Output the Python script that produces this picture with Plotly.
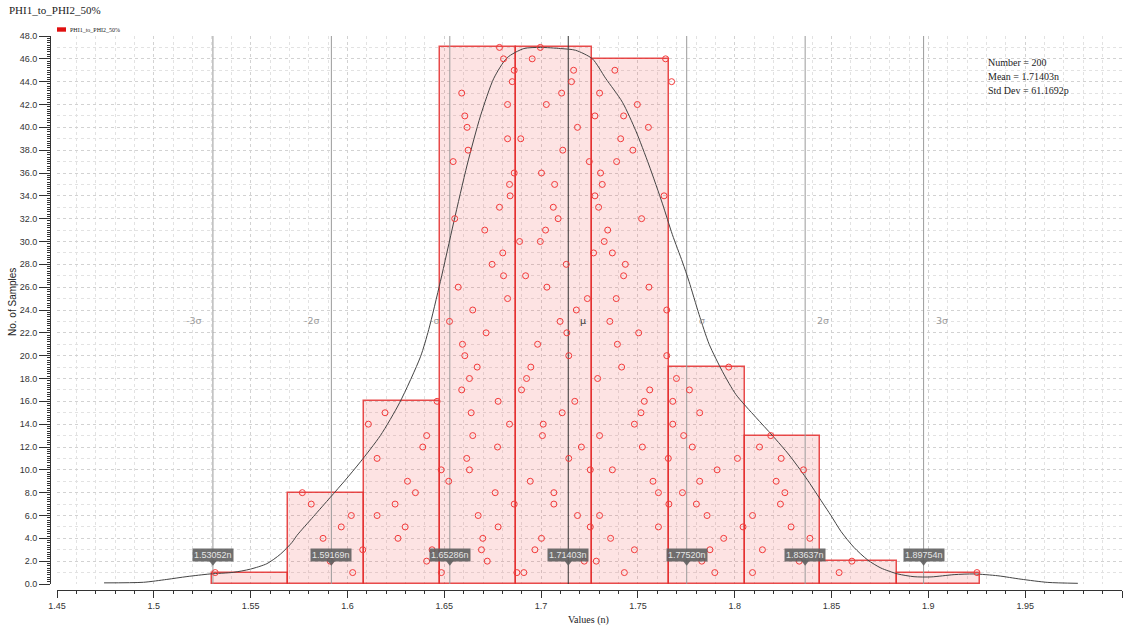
import plotly.graph_objects as go

# ---------------- data ----------------
title_text = "PHI1_to_PHI2_50%"
n_samples = 200
mean_n = 1.71403
std_n = 0.0611692
std_label = "61.1692p"

bin_edges = [1.5300, 1.5691, 1.6084, 1.6477, 1.6872, 1.7265, 1.7661, 1.8052, 1.8442, 1.8837, 1.9269]
bin_counts = [1, 8, 16, 47, 47, 46, 19, 13, 2, 1]

# sample values per bin, listed in the order of their plotted count level (1, 2, 3, ...)
bin1_samples = [1.5317]
bin2_samples = [1.6027, 1.5911, 1.6079, 1.5874, 1.5968, 1.6020, 1.5813, 1.5767]
bin3_samples = [1.6485, 1.6409, 1.6437, 1.6261, 1.6298, 1.6153, 1.6246, 1.6351, 1.6310, 1.6484,
                1.6153, 1.6389, 1.6409, 1.6108, 1.6194, 1.6463]
bin4_samples = [1.6875, 1.6722, 1.6692, 1.6699, 1.6778, 1.6675, 1.6861, 1.6763, 1.6523, 1.6630,
                1.6616, 1.6775, 1.6647, 1.6837, 1.6639, 1.6778, 1.6590, 1.6630, 1.6670, 1.6606,
                1.6594, 1.6716, 1.6527, 1.6647, 1.6827, 1.6572, 1.6806, 1.6747, 1.6802, 1.6889,
                1.6709, 1.6554, 1.6785, 1.6840, 1.6837, 1.6861, 1.6546, 1.6623, 1.6827, 1.6618,
                1.6606, 1.6827, 1.6590, 1.6851, 1.6861, 1.6806, 1.6785]
bin5_samples = [1.6911, 1.7223, 1.6968, 1.7002, 1.7254, 1.7188, 1.7066, 1.7066, 1.6944, 1.7254,
                1.7143, 1.7208, 1.7007, 1.7011, 1.7109, 1.7174, 1.6899, 1.6925, 1.6947, 1.7143,
                1.6982, 1.7133, 1.7098, 1.7182, 1.7239, 1.7030, 1.6920, 1.7130, 1.7271, 1.6996,
                1.7023, 1.7088, 1.7063, 1.7278, 1.7070, 1.7002, 1.7249, 1.7112, 1.6895, 1.7188,
                1.7278, 1.7027, 1.7106, 1.7157, 1.7168, 1.6954, 1.6996]
bin6_samples = [1.7430, 1.7285, 1.7482, 1.7359, 1.7606, 1.7302, 1.7660, 1.7606, 1.7578, 1.7368,
                1.7657, 1.7523, 1.7302, 1.7482, 1.7516, 1.7533, 1.7561, 1.7292, 1.7416, 1.7649,
                1.7394, 1.7504, 1.7355, 1.7649, 1.7388, 1.7557, 1.7426, 1.7435, 1.7368, 1.7326,
                1.7344, 1.7519, 1.7297, 1.7635, 1.7316, 1.7307, 1.7390, 1.7474, 1.7411, 1.7554,
                1.7426, 1.7497, 1.7302, 1.7674, 1.7381, 1.7643]
bin7_samples = [1.7897, 1.7830, 1.7872, 1.7943, 1.8043, 1.7857, 1.7802, 1.7730, 1.7819, 1.7909,
                1.8014, 1.7781, 1.7736, 1.7680, 1.7819, 1.7680, 1.7766, 1.7699, 1.7969]
bin8_samples = [1.8092, 1.8333, 1.8143, 1.8388, 1.8291, 1.8092, 1.8236, 1.8259, 1.8214, 1.8355,
                1.8240, 1.8128, 1.8186]
bin9_samples = [1.8539, 1.8605]
bin10_samples = [1.9251]

# density curve
curve_x = [1.4743, 1.4946, 1.5067, 1.5171, 1.5291, 1.5410, 1.5498, 1.5584, 1.5653, 1.5714,
           1.5739, 1.5824, 1.5912, 1.5989, 1.6067, 1.6170, 1.6270, 1.6377, 1.6420, 1.6480,
           1.6549, 1.6618, 1.6687, 1.6756, 1.6825, 1.6911, 1.6997, 1.7101, 1.7178, 1.7265,
           1.7333, 1.7420, 1.7489, 1.7557, 1.7627, 1.7678, 1.7730, 1.7764, 1.7816, 1.7868,
           1.7937, 1.8006, 1.8109, 1.8195, 1.8281, 1.8368, 1.8454, 1.8497, 1.8549, 1.8616,
           1.8687, 1.8755, 1.8842, 1.8926, 1.9014, 1.9133, 1.9236, 1.9359, 1.9479, 1.9617,
           1.9772]
curve_y = [0.10, 0.15, 0.40, 0.65, 0.88, 1.02, 1.30, 1.78, 2.60, 3.65,
           4.25, 5.90, 7.60, 9.10, 10.70, 13.00, 15.90, 19.90, 22.30, 26.50,
           31.70, 36.70, 41.00, 44.30, 46.10, 46.90, 47.00, 46.90, 46.75, 46.00,
           44.30, 42.20, 39.70, 36.70, 33.30, 30.60, 28.20, 26.50, 23.60, 21.00,
           18.60, 16.60, 14.60, 13.00, 11.30, 9.30, 7.10, 6.00, 4.60, 3.20,
           2.10, 1.40, 0.88, 0.64, 0.62, 0.82, 0.88, 0.72, 0.42, 0.14,
           0.06]

sigma_mult = [-3, -2, -1, 0, 1, 2, 3]
sigma_names = ["-3σ", "-2σ", "-σ", "μ", "σ", "2σ", "3σ"]

x_ticks = [1.45, 1.5, 1.55, 1.6, 1.65, 1.7, 1.75, 1.8, 1.85, 1.9, 1.95, 2.0]
x_tick_labels = ["1.45", "1.5", "1.55", "1.6", "1.65", "1.7", "1.75", "1.8", "1.85", "1.9", "1.95", "2.0"]

# ---------------- geometry helpers (pixels -> paper) ----------------
W, H = 1128, 629
ML, MR, MT, MB = 50, 6, 36, 39
PW, PH = W - ML - MR, H - MT - MB


def px(xp):
    return (xp - ML) / PW


def py(yp):
    return (H - MB - yp) / PH


SANS = "Liberation Sans"
SERIF = "Liberation Serif"

fig = go.Figure()

# histogram bars
centers = [(bin_edges[i] + bin_edges[i + 1]) / 2 for i in range(len(bin_counts))]
widths = [bin_edges[i + 1] - bin_edges[i] for i in range(len(bin_counts))]
fig.add_trace(go.Bar(
    x=centers, y=bin_counts, width=widths,
    marker=dict(color="rgba(240,60,60,0.14)", line=dict(color="rgba(228,45,45,0.85)", width=1.5)),
    showlegend=False, hoverinfo="skip"))

# sigma lines
for m, name in zip(sigma_mult, sigma_names):
    v = mean_n + m * std_n
    col = "#333333" if m == 0 else "#9a9a9a"
    fig.add_trace(go.Scatter(x=[v, v], y=[0, 48], mode="lines",
                             line=dict(color=col, width=1), showlegend=False, hoverinfo="skip"))
    fig.add_annotation(x=v, y=23.1, xref="x", yref="y", text=name, showarrow=False,
                       xanchor="right" if m < 0 else "left", xshift=-9 if m < 0 else 10,
                       font=dict(family="DejaVu Sans", size=9.5, color="#333333" if m == 0 else "#9a9a9a"))

# density curve
fig.add_trace(go.Scatter(x=curve_x, y=curve_y, mode="lines",
                         line=dict(color="#444444", width=1, shape="spline", smoothing=0.7),
                         showlegend=False, hoverinfo="skip"))

# sample points
pts_x, pts_y = [], []
for samples in [bin1_samples, bin2_samples, bin3_samples, bin4_samples, bin5_samples,
                bin6_samples, bin7_samples, bin8_samples, bin9_samples, bin10_samples]:
    for i, s in enumerate(samples):
        pts_x.append(s)
        pts_y.append(i + 1)
fig.add_trace(go.Scatter(x=pts_x, y=pts_y, mode="markers",
                         marker=dict(symbol="circle-open", size=6, color="#f23a3a", line=dict(width=1)),
                         showlegend=False, hoverinfo="skip"))

# sigma value markers
sig_vals = [mean_n + m * std_n for m in sigma_mult]
fig.add_trace(go.Scatter(x=sig_vals, y=[1.9] * len(sig_vals), mode="markers",
                         marker=dict(symbol="triangle-down", size=7, color="rgba(95,95,95,0.9)"),
                         showlegend=False, hoverinfo="skip"))
for v in sig_vals:
    fig.add_annotation(x=v, y=2.55, xref="x", yref="y", text=f"{v:.5f}n", showarrow=False,
                       bgcolor="rgba(95,95,95,0.9)", borderpad=1,
                       font=dict(family=SANS, size=9, color="#e6e6e6"))

# invisible trace for the minor-tick overlay axis
fig.add_trace(go.Scatter(x=[1.45], y=[0], yaxis="y2", mode="markers", marker=dict(opacity=0),
                         showlegend=False, hoverinfo="skip"))

# text
fig.add_annotation(x=px(7), y=py(10), xref="paper", yref="paper", text=title_text, showarrow=False,
                   xanchor="left", yanchor="middle", font=dict(family=SERIF, size=11, color="#222"))
fig.add_shape(type="rect", xref="paper", yref="paper", x0=px(57), x1=px(66), y0=py(31.7), y1=py(27.3),
              fillcolor="#e01010", line=dict(width=0))
fig.add_annotation(x=px(68), y=py(29.5), xref="paper", yref="paper", text=title_text, showarrow=False,
                   xanchor="left", yanchor="middle", font=dict(family=SERIF, size=6, color="#222"))
for i, t in enumerate([f"Number = {n_samples}", f"Mean = {mean_n:.5f}n", f"Std Dev = {std_label}"]):
    fig.add_annotation(x=px(986), y=py(62 + 14 * i), xref="paper", yref="paper", text=t, showarrow=False,
                       xanchor="left", yanchor="middle", font=dict(family=SERIF, size=10, color="#222"))
fig.add_annotation(x=px(588), y=py(620), xref="paper", yref="paper", text="Values (n)", showarrow=False,
                   xanchor="center", yanchor="middle", font=dict(family=SERIF, size=10, color="#222"))
fig.add_annotation(x=px(12), y=py(302), xref="paper", yref="paper", text="No. of Samples", showarrow=False,
                   textangle=-90, xanchor="center", yanchor="middle", font=dict(family=SANS, size=10, color="#222"))

fig.update_layout(
    width=W, height=H, margin=dict(l=ML, r=MR, t=MT, b=MB),
    paper_bgcolor="white", plot_bgcolor="white",
    bargap=0, barmode="overlay",
    xaxis=dict(range=[1.45, 2.0], domain=[px(57), 1.0], anchor="free", position=0,
               tickmode="array", tickvals=x_ticks, ticktext=x_tick_labels,
               ticks="outside", ticklen=7, tickcolor="#333", showline=True, linecolor="#333", linewidth=1,
               showgrid=True, gridcolor="#d2d2d2", griddash="dot", gridwidth=1, zeroline=False,
               tickfont=dict(family=SANS, size=9, color="#333"),
               minor=dict(tickmode="linear", tick0=1.45, dtick=0.01, ticks="outside", ticklen=3,
                          tickcolor="#333", showgrid=True, gridcolor="#e2e2e2", griddash="dot")),
    yaxis=dict(range=[0, 48], domain=[py(584), py(36)], anchor="free", position=0,
               tickmode="linear", tick0=0, dtick=2, tickformat=".1f",
               ticks="outside", ticklen=11, tickcolor="#333", showline=True, linecolor="#333", linewidth=1,
               showgrid=True, gridcolor="#d2d2d2", griddash="dot", zeroline=False,
               tickfont=dict(family=SANS, size=9, color="#333"),
               minor=dict(tickmode="linear", tick0=0, dtick=1, ticks="", showgrid=True,
                          gridcolor="#e2e2e2", griddash="dot")),
    yaxis2=dict(range=[0, 48], overlaying="y", anchor="free", position=0, side="left",
                tickmode="linear", tick0=0, dtick=0.2, ticks="outside", ticklen=3, tickcolor="#333",
                showticklabels=False, showgrid=False, zeroline=False, showline=False),
)

fig.write_html("out.html")
